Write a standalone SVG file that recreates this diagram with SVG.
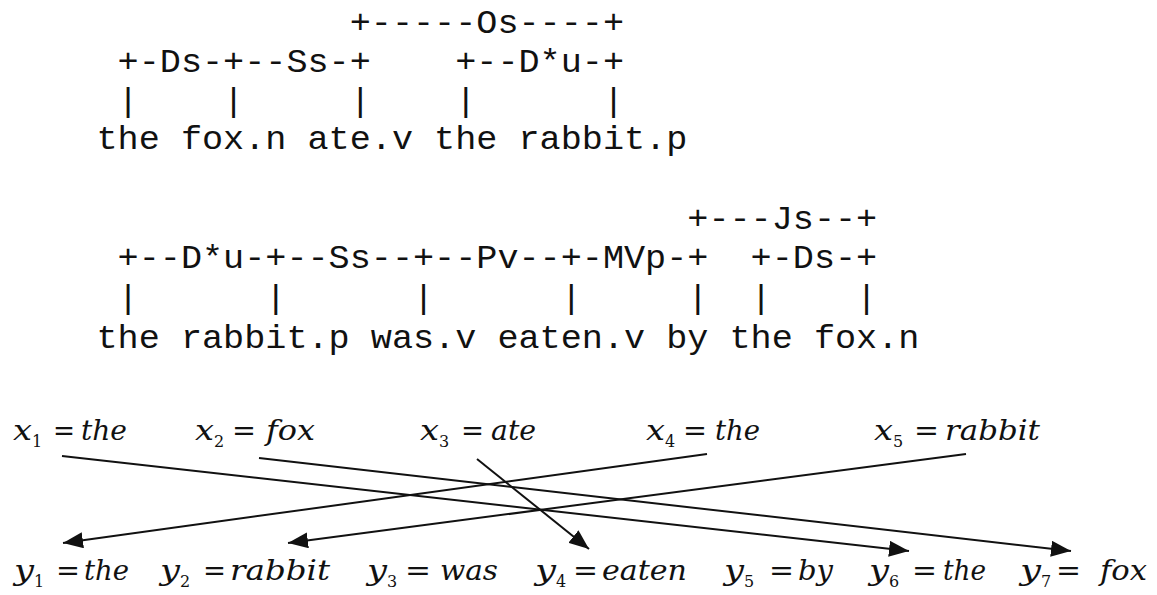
<svg xmlns="http://www.w3.org/2000/svg" width="1157" height="595" viewBox="0 0 1157 595" xml:space="preserve">
<style>
.m{font-family:"Liberation Mono","DejaVu Sans Mono",monospace;font-size:33px;fill:#111;white-space:pre}
.v,.w{font-family:"DejaVu Serif","Liberation Serif",serif;font-style:italic;font-size:28px;fill:#111}
.s{font-family:"DejaVu Serif","Liberation Serif",serif;font-size:16px;fill:#111}
.eq{font-family:"DejaVu Serif","Liberation Serif",serif;font-size:28px;fill:#111}
.c{stroke:#111;stroke-width:2;fill:none;marker-end:url(#ah)}
</style>
<defs>
<marker id="ah" viewBox="0 0 20 16" refX="20" refY="8" markerWidth="20" markerHeight="16" markerUnits="userSpaceOnUse" orient="auto">
<path d="M0,0 L20,8 L0,16 z" fill="#111"/>
</marker>
</defs>
<rect width="1157" height="595" fill="#fff"/>
<g id="parse1">
<text class="m" x="349.7" y="33" textLength="274.3" lengthAdjust="spacingAndGlyphs">+-----Os----+</text>
<text class="m" x="117.6" y="72" textLength="506.4" lengthAdjust="spacingAndGlyphs">+-Ds-+--Ss-+    +--D*u-+</text>
<text class="m" x="117.6" y="111" textLength="506.4" lengthAdjust="spacingAndGlyphs">|    |     |    |      |</text>
<text class="m" x="96.5" y="149" textLength="590.8" lengthAdjust="spacingAndGlyphs">the fox.n ate.v the rabbit.p</text>
</g>
<g id="parse2">
<text class="m" x="687.3" y="229" textLength="189.9" lengthAdjust="spacingAndGlyphs">+---Js--+</text>
<text class="m" x="117.6" y="268" textLength="759.6" lengthAdjust="spacingAndGlyphs">+--D*u-+--Ss--+--Pv--+-MVp-+  +-Ds-+</text>
<text class="m" x="117.6" y="308" textLength="759.6" lengthAdjust="spacingAndGlyphs">|      |      |      |     |  |    |</text>
<text class="m" x="96.5" y="348" textLength="822.9" lengthAdjust="spacingAndGlyphs">the rabbit.p was.v eaten.v by the fox.n</text>
</g>
<g id="x1"><text class="v" x="13" y="440" textLength="19" lengthAdjust="spacingAndGlyphs">x</text><text class="s" x="32" y="447">1</text><text class="eq" x="53" y="440" textLength="22" lengthAdjust="spacingAndGlyphs">=</text><text class="w" x="81" y="440" textLength="46" lengthAdjust="spacingAndGlyphs">the</text></g>
<g id="x2"><text class="v" x="195" y="440" textLength="19" lengthAdjust="spacingAndGlyphs">x</text><text class="s" x="214" y="447">2</text><text class="eq" x="232" y="440" textLength="24" lengthAdjust="spacingAndGlyphs">=</text><text class="w" x="266" y="440" textLength="49" lengthAdjust="spacingAndGlyphs">fox</text></g>
<g id="x3"><text class="v" x="420" y="440" textLength="19" lengthAdjust="spacingAndGlyphs">x</text><text class="s" x="439" y="447">3</text><text class="eq" x="461" y="440" textLength="23" lengthAdjust="spacingAndGlyphs">=</text><text class="w" x="491" y="440" textLength="45" lengthAdjust="spacingAndGlyphs">ate</text></g>
<g id="x4"><text class="v" x="646" y="440" textLength="19" lengthAdjust="spacingAndGlyphs">x</text><text class="s" x="665" y="447">4</text><text class="eq" x="683" y="440" textLength="24" lengthAdjust="spacingAndGlyphs">=</text><text class="w" x="715" y="440" textLength="45" lengthAdjust="spacingAndGlyphs">the</text></g>
<g id="x5"><text class="v" x="874" y="440" textLength="19" lengthAdjust="spacingAndGlyphs">x</text><text class="s" x="893" y="447">5</text><text class="eq" x="914" y="440" textLength="25" lengthAdjust="spacingAndGlyphs">=</text><text class="w" x="945" y="440" textLength="95" lengthAdjust="spacingAndGlyphs">rabbit</text></g>
<g id="y1"><text class="v" x="14" y="580" textLength="20" lengthAdjust="spacingAndGlyphs">y</text><text class="s" x="34" y="587">1</text><text class="eq" x="56" y="580" textLength="24" lengthAdjust="spacingAndGlyphs">=</text><text class="w" x="84" y="580" textLength="45" lengthAdjust="spacingAndGlyphs">the</text></g>
<g id="y2"><text class="v" x="160" y="580" textLength="20" lengthAdjust="spacingAndGlyphs">y</text><text class="s" x="180" y="587">2</text><text class="eq" x="203" y="580" textLength="23" lengthAdjust="spacingAndGlyphs">=</text><text class="w" x="230" y="580" textLength="100" lengthAdjust="spacingAndGlyphs">rabbit</text></g>
<g id="y3"><text class="v" x="367" y="580" textLength="20" lengthAdjust="spacingAndGlyphs">y</text><text class="s" x="387" y="587">3</text><text class="eq" x="405" y="580" textLength="26" lengthAdjust="spacingAndGlyphs">=</text><text class="w" x="440" y="580" textLength="58" lengthAdjust="spacingAndGlyphs">was</text></g>
<g id="y4"><text class="v" x="535" y="580" textLength="21" lengthAdjust="spacingAndGlyphs">y</text><text class="s" x="556" y="587">4</text><text class="eq" x="573" y="580" textLength="25" lengthAdjust="spacingAndGlyphs">=</text><text class="w" x="602" y="580" textLength="85" lengthAdjust="spacingAndGlyphs">eaten</text></g>
<g id="y5"><text class="v" x="724" y="580" textLength="20" lengthAdjust="spacingAndGlyphs">y</text><text class="s" x="744" y="587">5</text><text class="eq" x="769" y="580" textLength="25" lengthAdjust="spacingAndGlyphs">=</text><text class="w" x="798" y="580" textLength="35" lengthAdjust="spacingAndGlyphs">by</text></g>
<g id="y6"><text class="v" x="869" y="580" textLength="20" lengthAdjust="spacingAndGlyphs">y</text><text class="s" x="889" y="587">6</text><text class="eq" x="912" y="580" textLength="25" lengthAdjust="spacingAndGlyphs">=</text><text class="w" x="943" y="580" textLength="43" lengthAdjust="spacingAndGlyphs">the</text></g>
<g id="y7"><text class="v" x="1020" y="580" textLength="21" lengthAdjust="spacingAndGlyphs">y</text><text class="s" x="1041" y="587">7</text><text class="eq" x="1056" y="580" textLength="25" lengthAdjust="spacingAndGlyphs">=</text><text class="w" x="1100" y="580" textLength="47" lengthAdjust="spacingAndGlyphs">fox</text></g>
<g id="connectors">
<line class="c" x1="62" y1="456" x2="909" y2="551"/>
<line class="c" x1="259" y1="458" x2="1071" y2="551"/>
<line class="c" x1="477" y1="459" x2="589" y2="549"/>
<line class="c" x1="707" y1="454" x2="63" y2="543"/>
<line class="c" x1="966" y1="454" x2="288" y2="543"/>
</g>
</svg>
